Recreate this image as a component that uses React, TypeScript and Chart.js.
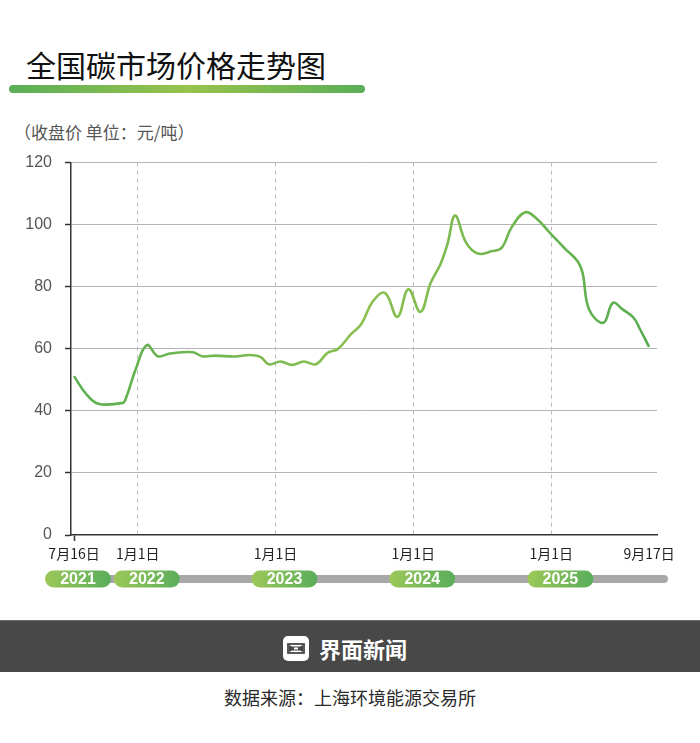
import React, { useEffect, useRef } from "react";
import { Chart, registerables } from "chart.js";

Chart.register(...registerables);

// ---- data ----
const dates = [
  "2021-07-16", "2021-08-16", "2021-09-18", "2021-11-19", "2021-11-28", "2021-12-27",
  "2022-01-25", "2022-02-23", "2022-03-28", "2022-05-27", "2022-06-21", "2022-07-26",
  "2022-09-15", "2022-10-24", "2022-11-23", "2022-12-14",
  "2023-01-14", "2023-02-14", "2023-03-17", "2023-04-18", "2023-05-19", "2023-06-15",
  "2023-07-20", "2023-08-16", "2023-09-16", "2023-10-18", "2023-11-20", "2023-12-19",
  "2024-01-20", "2024-02-16", "2024-03-14", "2024-04-01", "2024-04-21", "2024-05-20",
  "2024-06-20", "2024-07-26", "2024-08-22", "2024-09-18", "2024-10-24", "2024-11-24",
  "2024-12-30",
  "2025-02-06", "2025-03-12", "2025-03-25", "2025-04-11", "2025-05-19", "2025-06-13",
  "2025-07-09", "2025-08-07", "2025-08-24", "2025-09-17",
];
const prices = [
  51.2, 45.6, 42.3, 42.5, 43.3, 53.6,
  61.2, 57.6, 58.5, 58.9, 57.6, 57.8,
  57.5, 58.0, 57.3, 55.0,
  55.9, 54.8, 55.9, 55.0, 58.7, 59.9,
  64.7, 67.9, 75.3, 78.0, 70.3, 79.2,
  71.9, 81.2, 87.5, 93.9, 102.9, 94.2,
  90.7, 91.4, 92.5, 99.2, 104.0, 101.8,
  97.1,
  92.3, 88.1, 84.3, 72.7, 68.4, 74.8,
  72.7, 70.0, 66.3, 60.6,
];
const tickDates = ["2021-07-16", "2022-01-01", "2023-01-01", "2024-01-01", "2025-01-01", "2025-09-17"];
const tickLabels = ["7月16日", "1月1日", "1月1日", "1月1日", "1月1日", "9月17日"];
const yearLabels = ["2021", "2022", "2023", "2024", "2025"];
const yearAnchors = ["2021-07-16", "2022-01-01", "2023-01-01", "2024-01-01", "2025-01-01"];

const title = "全国碳市场价格走势图";
const subtitle = "（收盘价 单位：元/吨）";
const brand = "界面新闻";
const source = "数据来源：上海环境能源交易所";

const ORIGIN = Date.UTC(2021, 6, 16);
function dayOf(s: string): number {
  const [y, m, d] = s.split("-").map(Number);
  return Math.round((Date.UTC(y, m - 1, d) - ORIGIN) / 86400000);
}

const X_MIN = -8;
const X_MAX = 1545;

function pillPath(ctx: CanvasRenderingContext2D, x: number, y: number, w: number, h: number, r: number) {
  ctx.beginPath();
  ctx.moveTo(x + r, y);
  ctx.lineTo(x + w - r, y);
  ctx.arc(x + w - r, y + r, r, -Math.PI / 2, Math.PI / 2);
  ctx.lineTo(x + r, y + h);
  ctx.arc(x + r, y + r, r, Math.PI / 2, (3 * Math.PI) / 2);
  ctx.closePath();
}

const timelinePlugin = {
  id: "timeline",
  afterDraw(chart: any) {
    const { ctx, chartArea, scales } = chart;
    const xs = scales.x;
    const cy = chartArea.bottom + 44;
    ctx.save();
    ctx.fillStyle = "#a8a8a8";
    pillPath(ctx, 46, cy - 4, 622, 8, 4);
    ctx.fill();
    const w = 66;
    const h = 17;
    yearLabels.forEach((lab, i) => {
      const px = xs.getPixelForValue(dayOf(yearAnchors[i]));
      const left = i === 0 ? px - 29 : px - 24;
      const g = ctx.createLinearGradient(left, 0, left + w, 0);
      g.addColorStop(0, "#9cc858");
      g.addColorStop(1, "#5aad5b");
      ctx.fillStyle = g;
      pillPath(ctx, left, cy - h / 2, w, h, h / 2);
      ctx.fill();
      ctx.fillStyle = "#ffffff";
      ctx.font = 'bold 16px "Liberation Sans", Arial, sans-serif';
      ctx.textAlign = "center";
      ctx.textBaseline = "middle";
      ctx.fillText(lab, left + w / 2, cy + 1);
    });
    ctx.restore();
  },
};

export default function App() {
  const canvasRef = useRef<HTMLCanvasElement | null>(null);

  useEffect(() => {
    const canvas = canvasRef.current;
    if (!canvas) return;
    const points = dates.map((d, i) => ({ x: dayOf(d), y: prices[i] }));
    const tickDays = tickDates.map(dayOf);

    const chart = new Chart(canvas, {
      type: "line",
      data: {
        datasets: [
          {
            data: points,
            borderColor: (c: any) => {
              const ch = c.chart;
              const area = ch.chartArea;
              if (!area) return "#5db055";
              const g = ch.ctx.createLinearGradient(area.left, 0, area.right, 0);
              g.addColorStop(0, "#5aae50");
              g.addColorStop(0.5, "#8cc050");
              g.addColorStop(1, "#55ac50");
              return g;
            },
            borderWidth: 2.6,
            pointRadius: 0,
            pointHoverRadius: 0,
            tension: 0.4,
            fill: false,
          },
        ],
      },
      options: {
        animation: false,
        responsive: false,
        maintainAspectRatio: false,
        events: [],
        layout: { padding: { left: 0, right: 43, top: 18, bottom: 0 } },
        plugins: {
          legend: { display: false },
          tooltip: { enabled: false },
        },
        scales: {
          x: {
            type: "linear",
            min: X_MIN,
            max: X_MAX,
            afterBuildTicks: (s: any) => {
              s.ticks = tickDays.map((v) => ({ value: v }));
            },
            afterFit: (s: any) => {
              s.height = 65;
            },
            ticks: {
              autoSkip: false,
              maxRotation: 0,
              minRotation: 0,
              padding: 4,
              color: "#222",
              font: { family: '"Noto Sans CJK SC", sans-serif', size: 14 },
              callback: (_v: any, i: number) => tickLabels[i],
            },
            grid: {
              color: (c: any) => (c.index > 0 && c.index < tickDates.length - 1 ? "#bcbcbc" : "rgba(0,0,0,0)"),
              lineWidth: 1,
              drawTicks: true,
              tickLength: 6,
              tickWidth: 1.5,
              tickColor: (c: any) => (c.index === 0 ? "#333" : "rgba(0,0,0,0)"),
            },
            border: { display: true, color: "#333", width: 1.5, dash: [4, 4] },
          },
          y: {
            min: 0,
            max: 120,
            afterFit: (s: any) => {
              s.width = 71;
            },
            ticks: {
              stepSize: 20,
              padding: 13,
              color: "#555",
              font: { family: '"Liberation Sans", Arial, sans-serif', size: 16 },
            },
            grid: {
              color: (c: any) => (c.tick && c.tick.value === 0 ? "rgba(0,0,0,0)" : "#b4b4b4"),
              lineWidth: 1,
              tickLength: 6,
              tickWidth: 1.5,
              tickColor: "#333",
            },
            border: { display: true, color: "#333", width: 1.5 },
          },
        },
      } as any,
      plugins: [timelinePlugin],
    });
    return () => chart.destroy();
  }, []);

  const cjk = '"Noto Sans CJK SC", "Noto Sans", sans-serif';

  return (
    <div
      style={{
        position: "absolute",
        left: 0,
        top: 0,
        width: 700,
        height: 743,
        background: "#ffffff",
        overflow: "hidden",
        fontFamily: cjk,
      }}
    >
      <div
        style={{
          position: "absolute",
          left: 26,
          top: 49,
          fontSize: 30,
          lineHeight: "30px",
          color: "#111",
          whiteSpace: "nowrap",
        }}
      >
        {title}
      </div>
      <div
        style={{
          position: "absolute",
          left: 9,
          top: 85,
          width: 356,
          height: 7.5,
          borderRadius: 4,
          background: "linear-gradient(90deg, #5aae57 0%, #98c34d 50%, #5aae57 100%)",
        }}
      />
      <div
        style={{
          position: "absolute",
          left: 14,
          top: 122,
          fontSize: 17,
          lineHeight: "20px",
          color: "#555",
          whiteSpace: "nowrap",
        }}
      >
        {subtitle}
      </div>
      <canvas
        ref={canvasRef}
        width={700}
        height={460}
        style={{ position: "absolute", left: 0, top: 140, width: 700, height: 460 }}
      />
      <div
        style={{
          position: "absolute",
          left: 0,
          top: 620,
          width: 700,
          height: 52,
          background: "#484848",
          borderTop: "1px solid #6a6a6a",
          boxSizing: "border-box",
        }}
      />
      <svg
        width={26}
        height={25}
        viewBox="0 0 26 25"
        style={{ position: "absolute", left: 283, top: 636 }}
      >
        <rect x={0} y={0} width={26} height={25} rx={5} ry={5} fill="#ffffff" />
        <rect x={5} y={8} width={16} height={9} fill="none" stroke="#484848" strokeWidth={1.8} />
        <path d="M6 9 L10.5 11 L10.5 14 L6 16 Z M20 9 L15.5 11 L15.5 14 L20 16 Z" fill="#484848" />
        <rect x={10.5} y={11} width={5} height={3} fill="none" stroke="#484848" strokeWidth={1} />
      </svg>
      <div
        style={{
          position: "absolute",
          left: 319,
          top: 635,
          fontSize: 22,
          lineHeight: "26px",
          fontWeight: 700,
          color: "#ffffff",
          whiteSpace: "nowrap",
        }}
      >
        {brand}
      </div>
      <div
        style={{
          position: "absolute",
          left: 0,
          top: 685,
          width: 700,
          textAlign: "center",
          fontSize: 18,
          lineHeight: "24px",
          color: "#2a2a2a",
          whiteSpace: "nowrap",
        }}
      >
        {source}
      </div>
    </div>
  );
}
